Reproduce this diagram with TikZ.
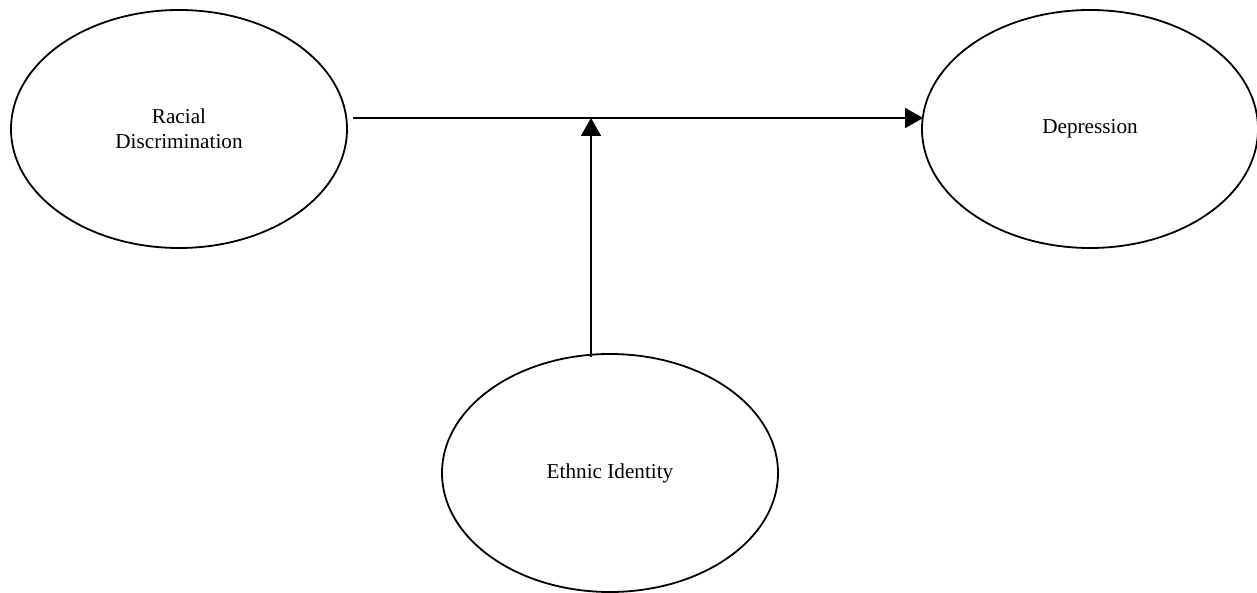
\documentclass[tikz,border=0pt]{standalone}
\usepackage{fontspec}
\setmainfont{Liberation Serif}
\usetikzlibrary{shapes.geometric,arrows.meta}

\tikzset{
    construct/.style={draw, ellipse, line width=0.9pt, inner sep=0pt,
        minimum width=168pt, minimum height=119pt, align=center,
        font=\fontsize{10.6}{12.5}\selectfont},
    path arrow/.style={line width=0.8pt, -{Triangle[length=9pt,width=10pt]}}
}

\begin{document}
\begin{tikzpicture}[x=0.5pt,y=-0.5pt]
            \useasboundingbox (0,0) rectangle (1257,593);

            \node[construct] (racial) at (179,129) {Racial\\Discrimination};
            \node[construct] (depression) at (1090,129) {Depression};
            \node[construct] (ethnic) at (610,473) {Ethnic Identity};

            \coordinate (joint) at (591,118);

            \draw[path arrow] ([shift={(5,-11)}]racial.east) -- ([shift={(2,-11)}]depression.west);
            \draw[path arrow] ([yshift=-2pt]ethnic.north -| joint) -- (joint);
        \end{tikzpicture}
\end{document}
